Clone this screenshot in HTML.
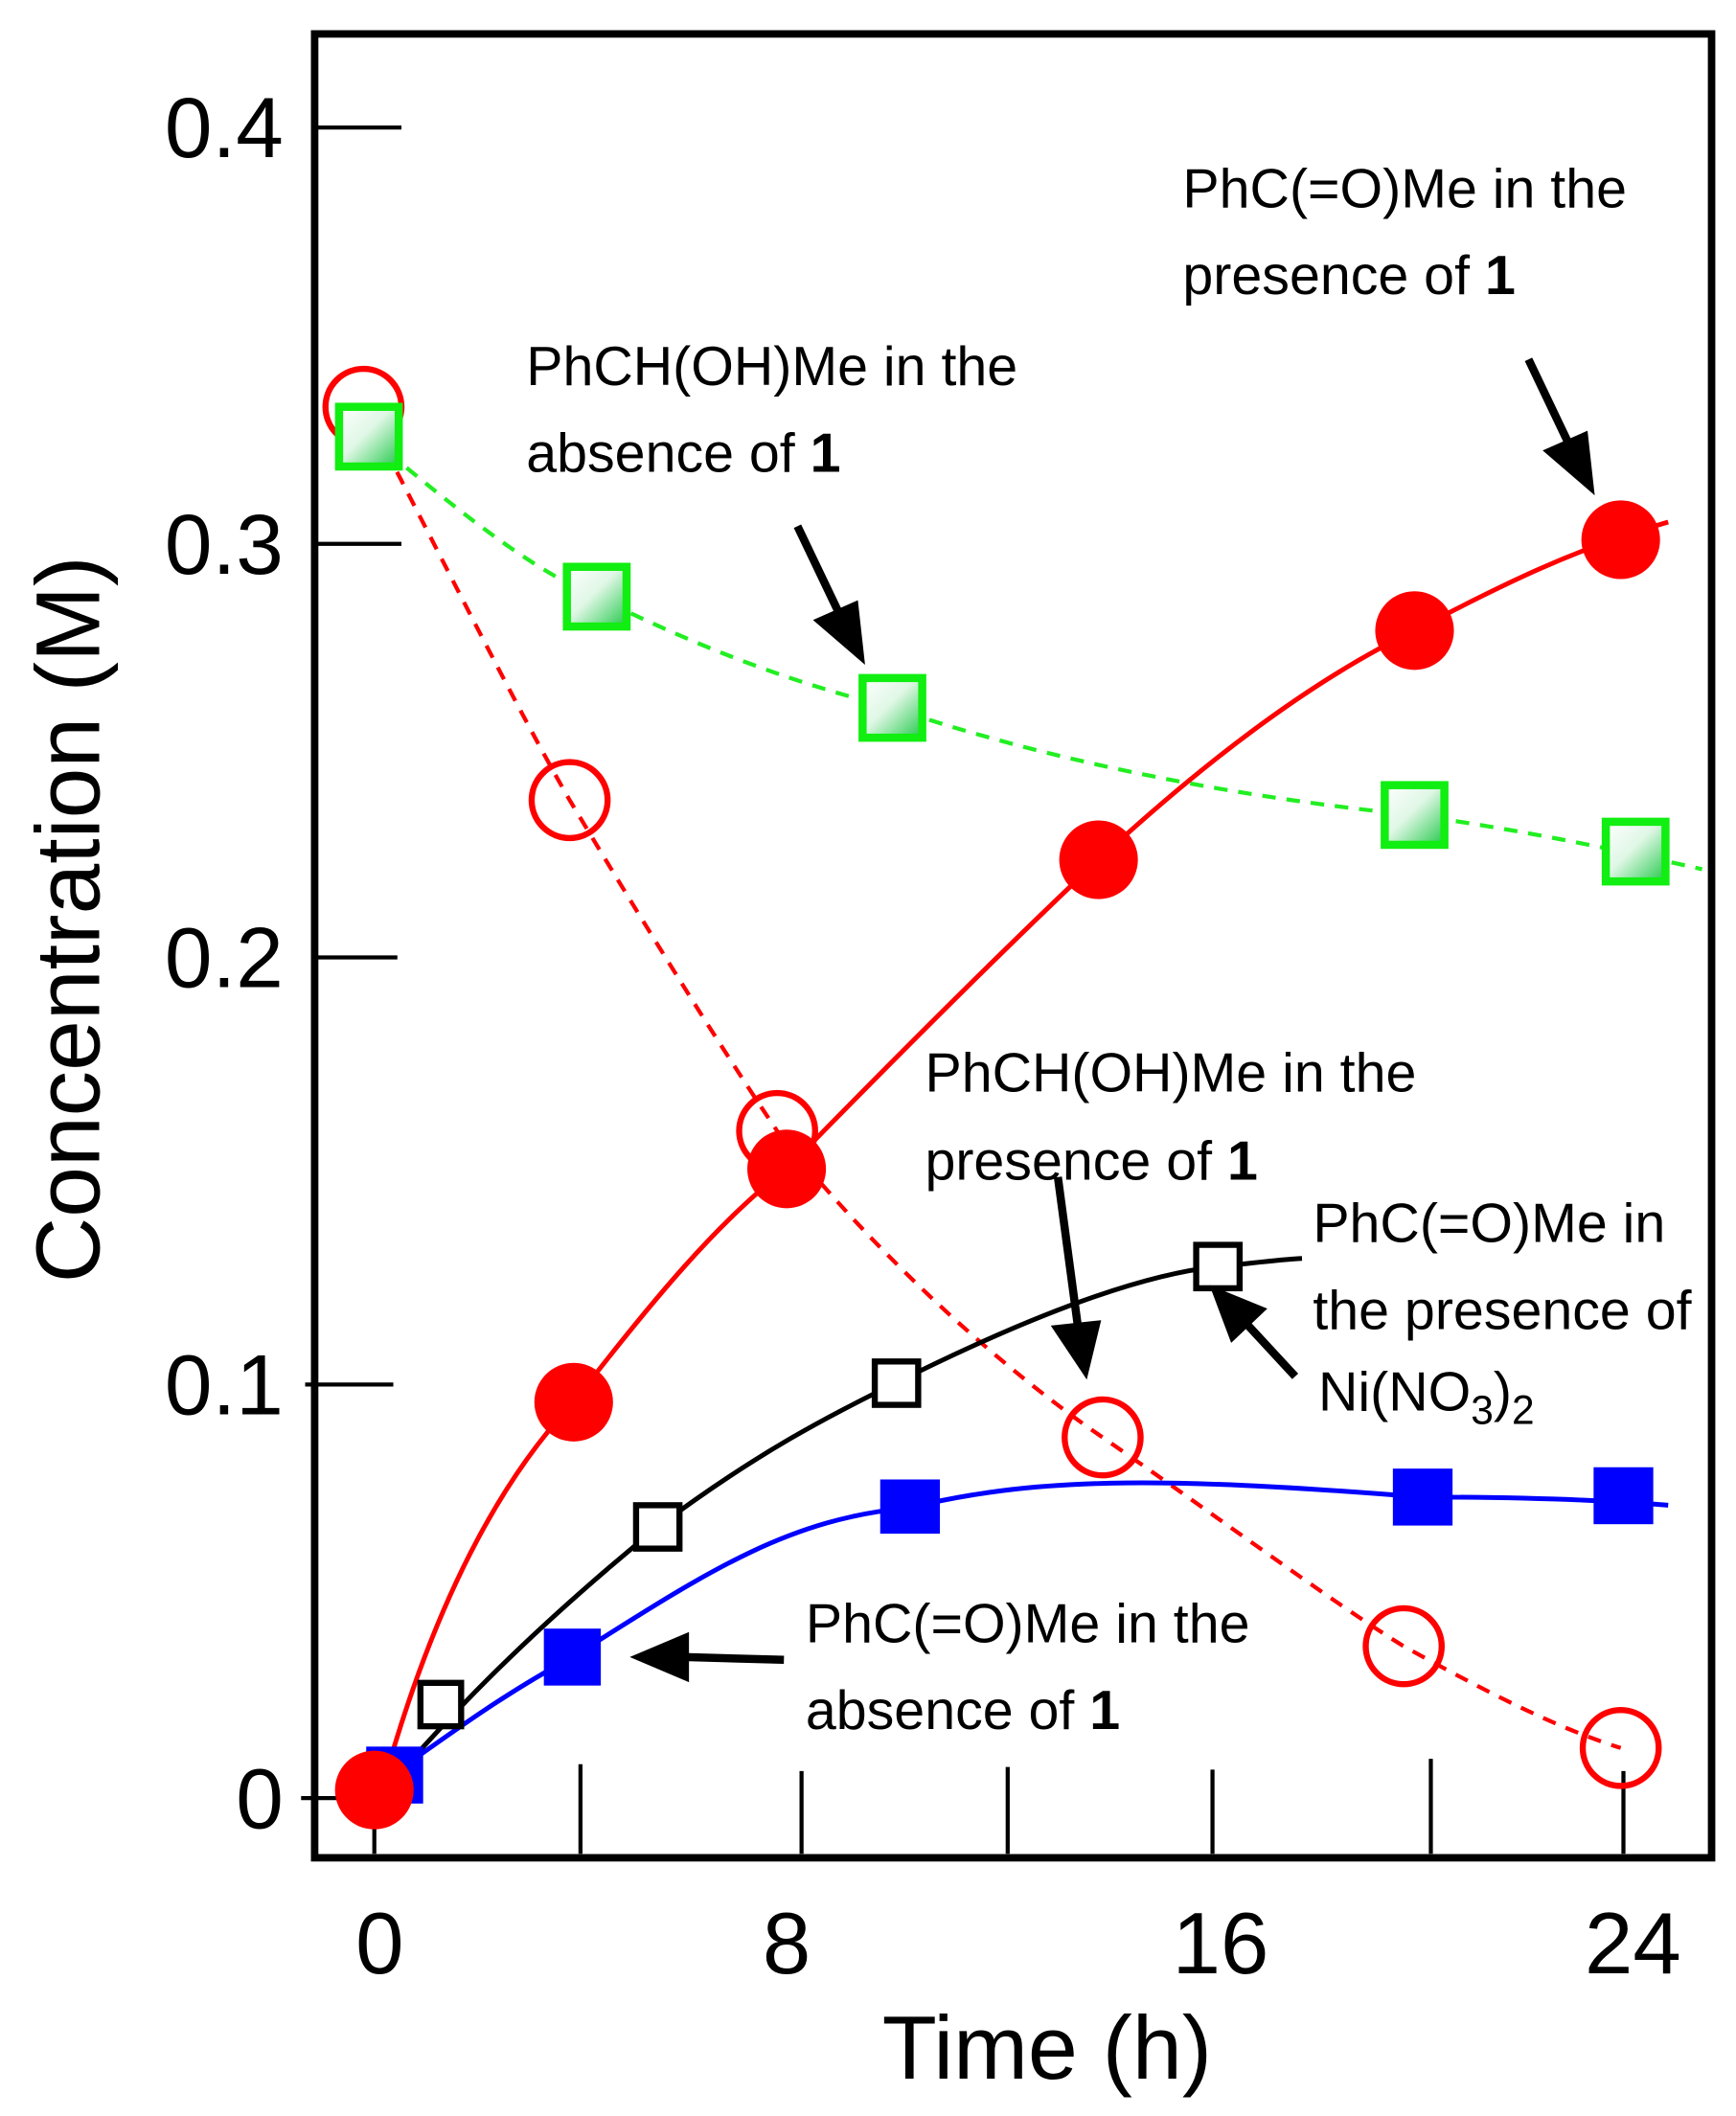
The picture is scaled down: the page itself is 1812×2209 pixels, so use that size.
<!DOCTYPE html>
<html><head><meta charset="utf-8"><style>
html,body{margin:0;padding:0;background:#fff;}
svg{display:block;}
text{font-family:"Liberation Sans",sans-serif;fill:#000;}
</style></head><body>
<svg width="1812" height="2209" viewBox="0 0 1280 1560.4" xmlns="http://www.w3.org/2000/svg">
<defs>
<linearGradient id="gg" x1="0" y1="0" x2="1" y2="1">
<stop offset="0" stop-color="#fff"/><stop offset="0.45" stop-color="#e0f7e6"/><stop offset="1" stop-color="#22c94a"/>
</linearGradient>
</defs>
<rect x="232" y="25" width="1030" height="1345" fill="none" stroke="#000" stroke-width="5.5"/>
<g stroke="#000" stroke-width="3">
<line x1="232" y1="94" x2="296" y2="94"/>
<line x1="232" y1="401" x2="296" y2="401"/>
<line x1="232" y1="706" x2="293" y2="706"/>
<line x1="225" y1="1021" x2="290" y2="1021"/>
<line x1="222" y1="1326" x2="250" y2="1326"/>
<line x1="276" y1="1306" x2="276" y2="1367"/>
<line x1="428" y1="1301" x2="428" y2="1367"/>
<line x1="591" y1="1306" x2="591" y2="1367"/>
<line x1="743" y1="1303" x2="743" y2="1367"/>
<line x1="894" y1="1305" x2="894" y2="1367"/>
<line x1="1055" y1="1297" x2="1055" y2="1367"/>
<line x1="1197" y1="1306" x2="1197" y2="1367"/>
</g>
<g font-size="63" text-anchor="end">
<text x="209" y="116">0.4</text>
<text x="209" y="423">0.3</text>
<text x="209" y="728">0.2</text>
<text x="209" y="1043">0.1</text>
<text x="209" y="1348">0</text>
</g>
<g font-size="64" text-anchor="middle">
<text x="280" y="1455">0</text>
<text x="580" y="1455">8</text>
<text x="900" y="1455">16</text>
<text x="1204" y="1455">24</text>
</g>
<text x="772" y="1533" font-size="66" text-anchor="middle">Time (h)</text>
<text transform="translate(73,678) rotate(-90)" font-size="67" text-anchor="middle">Concentration  (M)</text>

<path d="M268,300 C330,420 380,520 420,590 C480,690 530,770 573,834 C650,930 740,1010 813,1060 C900,1120 980,1180 1035,1214 C1100,1250 1150,1275 1195,1289" fill="none" stroke="#f00" stroke-width="3" stroke-dasharray="10,8"/>
<path d="M272,322 C330,370 390,420 440,440 C520,480 590,505 658,522 C800,570 950,592 1043,601 C1120,612 1180,624 1255,641" fill="none" stroke="#2e2" stroke-width="3" stroke-dasharray="10,8"/>
<path d="M282,1318 C320,1180 370,1090 423,1034 C480,960 530,900 580,862 C660,780 740,700 810,634 C890,560 970,500 1043,465 C1110,430 1160,405 1230,385" fill="none" stroke="#f00" stroke-width="3.5"/>
<path d="M285,1318 C320,1280 370,1220 485,1126 C560,1070 610,1045 660,1020 C760,970 840,940 898,934 C920,932 940,929 960,928" fill="none" stroke="#000" stroke-width="3.5"/>
<path d="M290,1308 C330,1280 370,1250 422,1222 C520,1160 580,1120 670,1112 C760,1090 850,1088 1048,1104 C1120,1104 1180,1106 1230,1110" fill="none" stroke="#00f" stroke-width="3.5"/>

<g fill="none" stroke="#f00" stroke-width="4.5">
<circle cx="268" cy="300" r="28"/><circle cx="420" cy="590" r="28"/><circle cx="573" cy="834" r="28"/>
<circle cx="813" cy="1060" r="28"/><circle cx="1035" cy="1214" r="28"/><circle cx="1195" cy="1289" r="28"/>
</g>
<g fill="url(#gg)" stroke="#1e1" stroke-width="6">
<rect x="250" y="300" width="44" height="44"/><rect x="418" y="418" width="44" height="44"/>
<rect x="636" y="500" width="44" height="44"/><rect x="1021" y="579" width="44" height="44"/>
<rect x="1184" y="606" width="44" height="44"/>
</g>
<g fill="#00f">
<rect x="270" y="1288" width="42" height="42"/><rect x="401" y="1201" width="42" height="42"/>
<rect x="649" y="1091" width="44" height="40"/><rect x="1027" y="1083" width="44" height="42"/>
<rect x="1175" y="1082" width="44" height="42"/>
</g>
<g fill="#fff" stroke="#000" stroke-width="4.5">
<rect x="310" y="1241" width="30" height="32"/><rect x="469" y="1110" width="32" height="32"/>
<rect x="645" y="1004" width="32" height="32"/><rect x="882" y="918" width="32" height="32"/>
</g>
<g fill="#f00">
<circle cx="276" cy="1320" r="29"/><circle cx="423" cy="1034" r="29"/><circle cx="580" cy="862" r="29"/>
<circle cx="810" cy="634" r="29"/><circle cx="1043" cy="465" r="29"/><circle cx="1195" cy="398" r="29"/>
</g>

<g stroke="#000" stroke-width="6" fill="#000">
<line x1="1127" y1="265" x2="1158" y2="330"/><polygon points="1172,358 1143,333 1168,322"/>
<line x1="588" y1="388" x2="620" y2="455"/><polygon points="634,483 605,458 630,447"/>
<line x1="780" y1="868" x2="795" y2="980"/><polygon points="800,1010 780,980 808,977"/>
<line x1="955" y1="1015" x2="918" y2="975"/><polygon points="897,953 929,966 909,985"/>
<line x1="578" y1="1224" x2="505" y2="1222"/><polygon points="472,1222 505,1208 505,1236"/>
</g>

<g font-size="40.5">
<text x="872" y="153">PhC(=O)Me in the</text>
<text x="872" y="217">presence of <tspan font-weight="bold">1</tspan></text>
<text x="388" y="284">PhCH(OH)Me in the</text>
<text x="388" y="348">absence of <tspan font-weight="bold">1</tspan></text>
<text x="682" y="805">PhCH(OH)Me in the</text>
<text x="682" y="870">presence of <tspan font-weight="bold">1</tspan></text>
<text x="968" y="916">PhC(=O)Me in</text>
<text x="968" y="980">the presence of</text>
<text x="972" y="1040">Ni(NO<tspan font-size="30" dy="10">3</tspan><tspan dy="-10">)</tspan><tspan font-size="30" dy="10">2</tspan></text>
<text x="594" y="1211">PhC(=O)Me in the</text>
<text x="594" y="1275">absence of <tspan font-weight="bold">1</tspan></text>
</g>
</svg>
</body></html>
